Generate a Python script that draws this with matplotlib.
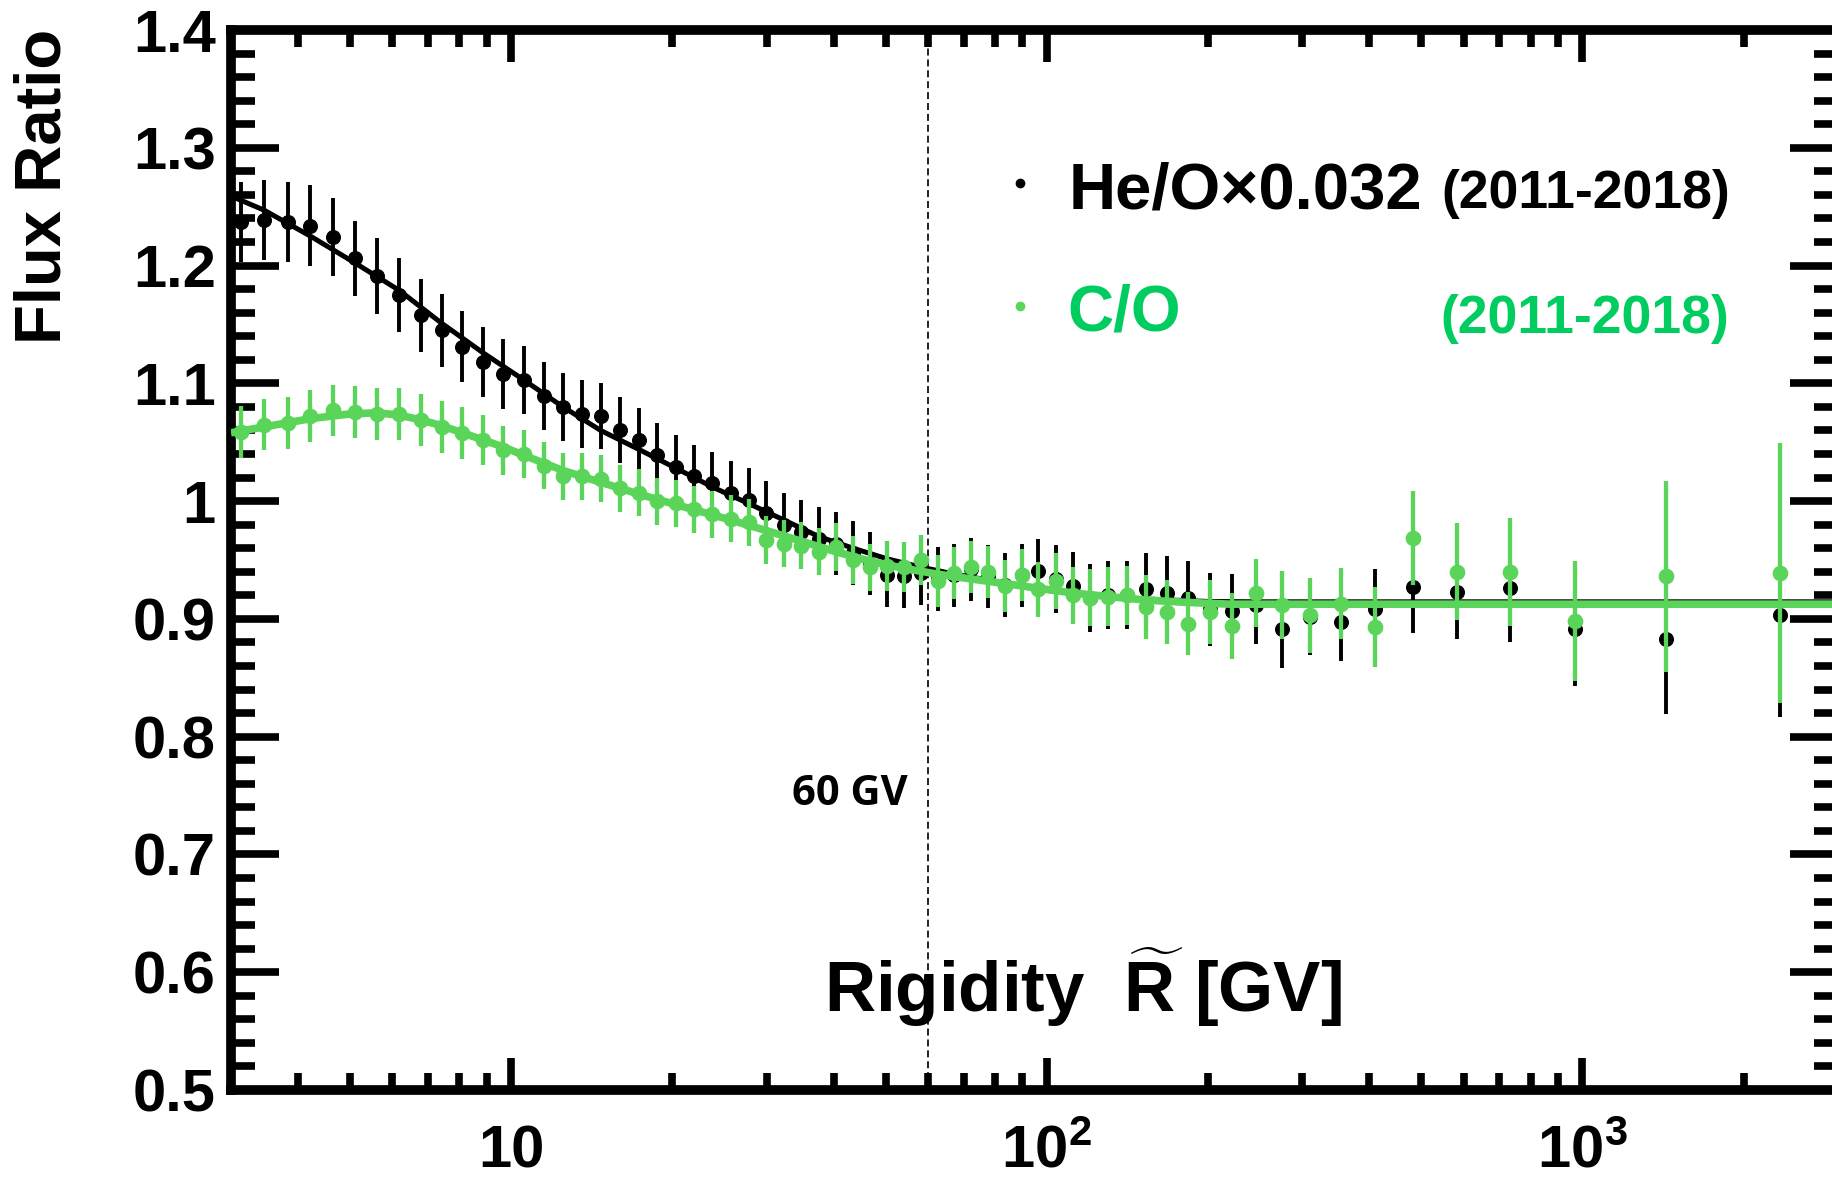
import matplotlib
matplotlib.use('Agg')
import matplotlib.pyplot as plt
from matplotlib.ticker import FixedLocator, FixedFormatter, NullFormatter, LogLocator, MultipleLocator

# ---------------- data ----------------
rigidity = [3.13, 3.46, 3.83, 4.22, 4.65, 5.12, 5.63, 6.18, 6.78, 7.42,
            8.11, 8.86, 9.67, 10.55, 11.5, 12.5, 13.55, 14.7, 15.95, 17.3,
            18.75, 20.3, 21.95, 23.75, 25.7, 27.75, 29.95, 32.3, 34.8, 37.5,
            40.4, 43.5, 46.8, 50.35, 54.15, 58.2, 62.55, 67.25, 72.3, 77.7,
            83.5, 89.75, 96.5, 104, 112, 120.5, 130, 141, 153.5, 167.5,
            183.5, 201.5, 222, 246, 275, 310.5, 354.5, 410, 483, 583,
            731, 968, 1435, 2340]

he_o = [1.237, 1.239, 1.237, 1.234, 1.224, 1.206, 1.191, 1.175, 1.158, 1.145,
        1.131, 1.118, 1.108, 1.103, 1.089, 1.080, 1.074, 1.072, 1.060, 1.052,
        1.039, 1.029, 1.021, 1.015, 1.007, 1.001, 0.990, 0.980, 0.974, 0.968,
        0.964, 0.956, 0.947, 0.937, 0.936, 0.939, 0.934, 0.937, 0.942, 0.936,
        0.929, 0.937, 0.941, 0.934, 0.928, 0.918, 0.920, 0.920, 0.925, 0.922,
        0.918, 0.908, 0.907, 0.912, 0.891, 0.902, 0.897, 0.908, 0.927, 0.923,
        0.926, 0.891, 0.883, 0.903]

he_o_err = [0.034, 0.034, 0.034, 0.034, 0.033, 0.032, 0.032, 0.031, 0.031, 0.031,
            0.030, 0.030, 0.030, 0.029, 0.029, 0.029, 0.029, 0.028, 0.028, 0.027,
            0.027, 0.027, 0.027, 0.027, 0.027, 0.027, 0.027, 0.027, 0.027, 0.027,
            0.027, 0.027, 0.027, 0.027, 0.027, 0.027, 0.027, 0.027, 0.027, 0.027,
            0.027, 0.027, 0.027, 0.029, 0.029, 0.029, 0.029, 0.029, 0.031, 0.031,
            0.031, 0.031, 0.031, 0.033, 0.033, 0.033, 0.033, 0.034, 0.039, 0.040,
            0.046, 0.048, 0.064, 0.086]

c_o = [1.059, 1.065, 1.066, 1.072, 1.077, 1.076, 1.074, 1.074, 1.069, 1.063,
       1.058, 1.052, 1.043, 1.040, 1.030, 1.021, 1.021, 1.019, 1.011, 1.007,
       1.000, 0.998, 0.993, 0.989, 0.985, 0.982, 0.967, 0.964, 0.962, 0.957,
       0.961, 0.950, 0.944, 0.945, 0.944, 0.950, 0.932, 0.939, 0.944, 0.940,
       0.928, 0.937, 0.925, 0.932, 0.920, 0.918, 0.919, 0.920, 0.910, 0.906,
       0.896, 0.906, 0.894, 0.922, 0.912, 0.903, 0.913, 0.893, 0.969, 0.940,
       0.940, 0.898, 0.936, 0.939]

c_o_err = [0.022, 0.022, 0.022, 0.022, 0.022, 0.022, 0.022, 0.022, 0.022, 0.022,
           0.022, 0.021, 0.021, 0.020, 0.020, 0.020, 0.020, 0.020, 0.020, 0.020,
           0.020, 0.020, 0.020, 0.020, 0.020, 0.020, 0.020, 0.020, 0.020, 0.020,
           0.020, 0.020, 0.020, 0.021, 0.021, 0.021, 0.022, 0.022, 0.022, 0.022,
           0.022, 0.022, 0.023, 0.024, 0.024, 0.024, 0.025, 0.025, 0.027, 0.027,
           0.027, 0.027, 0.028, 0.029, 0.029, 0.032, 0.030, 0.034, 0.040, 0.041,
           0.046, 0.051, 0.081, 0.110]

fit_he_R = [3.0, 3.46, 4.22, 5.12, 6.18, 7.42, 8.86, 10.55, 12.5, 14.7, 17.3,
            20.3, 23.75, 27.75, 32.3, 37.5, 43.5, 50.35, 58.2, 67.25, 77.7,
            96.5, 120, 150, 200, 250, 3000]
fit_he_val = [1.259, 1.247, 1.225, 1.202, 1.179, 1.151, 1.126, 1.103, 1.080, 1.060,
              1.044, 1.028, 1.012, 0.998, 0.984, 0.970, 0.960, 0.951, 0.944, 0.938,
              0.933, 0.925, 0.920, 0.917, 0.9148, 0.9145, 0.9145]

fit_c_R = [3.0, 3.46, 4.22, 5.0, 5.63, 6.18, 6.78, 7.42, 8.11, 9.67, 10.55, 12.5,
           14.7, 17.3, 20.3, 25.7, 29.95, 34.8, 40.4, 46.8, 54.0, 62.5, 72.0, 83.5,
           96.5, 112, 130, 153, 183, 220, 3000]
fit_c_val = [1.058, 1.063, 1.070, 1.074, 1.075, 1.073, 1.069, 1.064, 1.058, 1.046,
             1.039, 1.026, 1.016, 1.006, 0.997, 0.984, 0.975, 0.966, 0.957, 0.949,
             0.943, 0.938, 0.934, 0.930, 0.926, 0.922, 0.919, 0.916, 0.914, 0.9125,
             0.9125]

ytick_vals = [0.5, 0.6, 0.7, 0.8, 0.9, 1.0, 1.1, 1.2, 1.3, 1.4]
ytick_labels = ['0.5', '0.6', '0.7', '0.8', '0.9', '1', '1.1', '1.2', '1.3', '1.4']
xtick_vals = [10, 100, 1000]
xtick_labels = ['10', r'$\mathbf{10^{2}}$', r'$\mathbf{10^{3}}$']
break_R = 60

# ---------------- style ----------------
plt.rcParams['font.family'] = ['Liberation Sans', 'DejaVu Sans']
plt.rcParams['font.weight'] = 'bold'
plt.rcParams['mathtext.fontset'] = 'custom'
plt.rcParams['mathtext.bf'] = 'Liberation Sans:bold'
plt.rcParams['mathtext.rm'] = 'Liberation Sans:bold'
plt.rcParams['mathtext.it'] = 'Liberation Sans:bold:italic'
plt.rcParams['mathtext.sf'] = 'Liberation Sans:bold'

BLACK = '#000000'
GREEN = '#5AD55A'
GREEN_TXT = '#00CC60'

W, H = 1832, 1179
fig = plt.figure(figsize=(W / 100, H / 100), dpi=100)
ax = fig.add_axes([231 / W, 89 / H, 1607 / W, 1060 / H])
ax.set_xscale('log')
ax.set_xlim(3, 3000)
ax.set_ylim(0.5, 1.4)

# data
ax.errorbar(rigidity, he_o, yerr=he_o_err, fmt='o', color=BLACK, ms=9.8,
            elinewidth=2.8, capsize=0, zorder=2)
ax.plot(fit_he_R, fit_he_val, '-', color=BLACK, lw=3.6, zorder=3,
        solid_capstyle='butt')
ax.errorbar(rigidity, c_o, yerr=c_o_err, fmt='o', color=GREEN, ms=10.3,
            elinewidth=3.1, capsize=0, zorder=4)
ax.plot(fit_c_R, fit_c_val, '-', color=GREEN, lw=5.5, zorder=5,
        solid_capstyle='butt')

# break line
vl = ax.axvline(break_R, color='#222222', lw=1.4, zorder=1)
vl.set_dashes((3.6, 2.0))
ax.text((792 - 231) / 1607, (1090 - 805) / 1060, '60 GV',
        transform=ax.transAxes, ha='left', va='baseline', fontsize=30,
        fontfamily=['Open Sans', 'DejaVu Sans'], fontweight='bold', color='black')

# spines / ticks
for s in ax.spines.values():
    s.set_linewidth(7.0)
ax.xaxis.set_major_locator(FixedLocator(xtick_vals))
ax.xaxis.set_minor_locator(LogLocator(base=10, subs=[2, 3, 4, 5, 6, 7, 8, 9], numticks=20))
ax.xaxis.set_major_formatter(NullFormatter())
ax.xaxis.set_minor_formatter(NullFormatter())
ax.yaxis.set_major_locator(FixedLocator(ytick_vals))
ax.yaxis.set_major_formatter(FixedFormatter(ytick_labels))
ax.yaxis.set_minor_locator(MultipleLocator(0.02))

ax.tick_params(axis='both', which='both', direction='in', top=True, right=True, width=5.5)
ax.tick_params(axis='x', which='major', length=23)
ax.tick_params(axis='x', which='minor', length=12)
ax.tick_params(axis='y', which='major', length=34.5, labelsize=43, pad=11)
ax.tick_params(axis='y', which='minor', length=17)
for lab in ax.get_yticklabels():
    lab.set_fontweight('bold')

# x tick labels drawn at a common baseline
for xv, lbl in zip(xtick_vals, xtick_labels):
    ax.text(xv, (1090 - 1167) / 1060, lbl, transform=ax.get_xaxis_transform(),
            ha='center', va='baseline', fontsize=43, fontweight='bold')

# axis titles
ax.text((824 - 231) / 1607, (1090 - 1012) / 1060, r'Rigidity  $\widetilde{\mathbf{R}}$ [GV]',
        transform=ax.transAxes, ha='left', va='baseline', fontsize=51, fontweight='bold')
fig.text(44 / W, 1 - 29 / H, 'Flux Ratio', rotation=90, ha='center', va='top',
         fontsize=47, fontweight='bold')

# legend
def axx(px):
    return (px - 231) / 1607

def axy(py):
    return (1090 - py) / 1060

ax.plot([axx(1020)], [axy(183)], 'o', color=BLACK, ms=6, transform=ax.transAxes, clip_on=False)
ax.plot([axx(1020)], [axy(306)], 'o', color=GREEN, ms=6, transform=ax.transAxes, clip_on=False)
ax.text(axx(1069), axy(208), 'He/O\u00d70.032', transform=ax.transAxes, ha='left',
        va='baseline', fontsize=47, fontweight='bold', color='black')
ax.text(axx(1441), axy(208), '(2011-2018)', transform=ax.transAxes, ha='left',
        va='baseline', fontsize=38.5, fontweight='bold', color='black')
ax.text(axx(1067), axy(331), 'C/O', transform=ax.transAxes, ha='left',
        va='baseline', fontsize=46, fontweight='bold', color=GREEN_TXT)
ax.text(axx(1440), axy(333), '(2011-2018)', transform=ax.transAxes, ha='left',
        va='baseline', fontsize=38.5, fontweight='bold', color=GREEN_TXT)

fig.savefig('out.png', dpi=100)
